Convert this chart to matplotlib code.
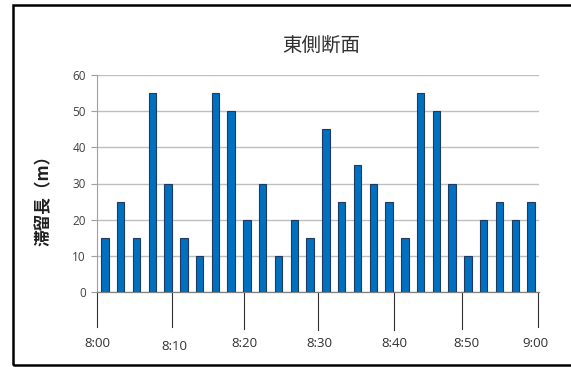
import matplotlib
matplotlib.use("Agg")
import matplotlib.pyplot as plt
from matplotlib.patches import Rectangle

values = [15, 25, 15, 55, 30, 15, 10, 55, 50, 20, 30, 10, 20, 15,
          45, 25, 35, 30, 25, 15, 55, 50, 30, 10, 20, 25, 20, 25]
time_labels = ["8:00", "8:10", "8:20", "8:30", "8:40", "8:50", "9:00"]
# positions (in category units) of the hand-drawn separator lines and labels
sep_pos = [-0.5, 4.27, 8.81, 13.48, 18.31, 22.64, 27.46]
sep_bottom = [-9.7, -9.7, -10.3, -10.5, -10.5, -10.3, -9.7]
label_pos = [-0.5, 4.38, 8.81, 13.56, 18.31, 22.93, 27.25]
label_y = [-14.3, -15.2, -14.3, -14.3, -14.3, -14.3, -14.3]
yticks = [0, 10, 20, 30, 40, 50, 60]

W, H = 571, 367
fig = plt.figure(figsize=(W / 100, H / 100), dpi=100)
fig.patch.set_facecolor("white")

# outer frame (right edge falls at the image border)
fig.patches.append(Rectangle((13 / W, 1 - 365 / H), (572 - 13) / W, (365 - 5) / H,
                             transform=fig.transFigure, fill=False,
                             edgecolor="black", linewidth=1.8))

ax = fig.add_axes([97 / W, 1 - 292 / H, (539 - 97) / W, (292 - 75) / H])
x = list(range(len(values)))
ax.bar(x, values, width=0.47, color="#0070C0", edgecolor="#1F3A60",
       linewidth=0.8, zorder=3)
ax.set_xlim(-0.5, len(values) - 0.5)
ax.set_ylim(0, 60)
ax.set_yticks(yticks)
ax.set_yticklabels([str(v) for v in yticks], fontfamily="Open Sans",
                   fontsize=8.5, color="#404040")
ax.tick_params(axis="y", length=4, color="#A0A0A0", width=0.8, pad=4)
ax.set_xticks([])
ax.grid(axis="y", color="#BFBFBF", linewidth=1.0, zorder=0)
for s in ["top", "right"]:
    ax.spines[s].set_visible(False)
ax.spines["left"].set_color("#A0A0A0")
ax.spines["bottom"].set_color("#808080")
ax.spines["left"].set_linewidth(0.8)
ax.spines["bottom"].set_linewidth(0.9)

for p, b in zip(sep_pos, sep_bottom):
    ax.plot([p, p], [0, b], color="#303030", linewidth=0.8, clip_on=False)
for p, ly, t in zip(label_pos, label_y, time_labels):
    ax.text(p, ly, t, ha="center", va="center", fontfamily="Open Sans",
            fontsize=9.5, color="#303030", clip_on=False)

fig.text(321 / W, 1 - 45 / H, "東側断面", ha="center", va="center",
         fontfamily=["Noto Sans CJK JP", "DejaVu Sans"], fontsize=14,
         color="#303030")
fig.text(43.5 / W, 1 - 196 / H, "滞留長（m）", ha="center", va="center",
         rotation=90, fontfamily=["Noto Sans CJK JP", "DejaVu Sans"],
         fontsize=12, fontweight="bold", color="#202020")

fig.savefig("out.png", dpi=100)
